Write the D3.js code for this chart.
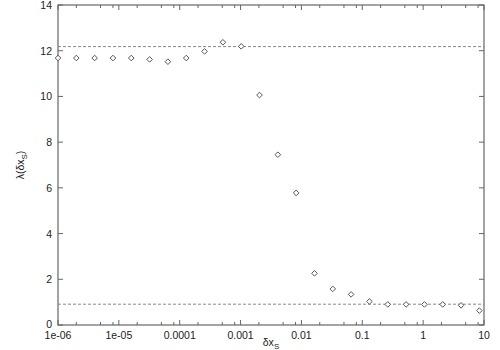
<!DOCTYPE html>
<head>
<meta charset="utf-8">
<script src="https://d3js.org/d3.v7.min.js"></script>
<style>
body { margin: 0; background: white; }
text { font-family: "Liberation Sans", Arial, sans-serif; fill: #222; }
</style>
</head>
<body>
<div id="chart"></div>
<script>
// points: dx doubles from 1e-06
dx = [1e-6, 2e-6, 4e-6, 8e-6, 1.6e-5, 3.2e-5, 6.4e-5, 1.28e-4, 2.56e-4, 5.12e-4,
      1.024e-3, 2.048e-3, 4.096e-3, 8.192e-3, 1.6384e-2, 3.2768e-2, 6.5536e-2,
      0.131072, 0.262144, 0.524288, 1.048576, 2.097152, 4.194304, 8.388608];
lambda = [11.68, 11.68, 11.68, 11.68, 11.68, 11.62, 11.52, 11.68, 11.97, 12.37,
          12.19, 10.06, 7.45, 5.78, 2.26, 1.58, 1.34, 1.03, 0.90, 0.90,
          0.90, 0.90, 0.86, 0.63];
refLines = [12.18, 0.91];
xTicks = [1e-6, 1e-5, 1e-4, 1e-3, 1e-2, 0.1, 1, 10];
xTickLabels = ["1e-06", "1e-05", "0.0001", "0.001", "0.01", "0.1", "1", "10"];
yTicks = [0, 2, 4, 6, 8, 10, 12, 14];
minorMult = [2, 5, 8];

width = 500;
height = 350;
margin = {left: 58, right: 16, top: 5, bottom: 25};

const svg = d3.select("#chart").append("svg")
    .attr("width", width)
    .attr("height", height);

var x = d3.scaleLog()
    .domain([1e-6, 10])
    .range([margin.left, width - margin.right]);

var y = d3.scaleLinear()
    .domain([0, 14])
    .range([height - margin.bottom, margin.top]);

let x0 = x.range()[0], x1 = x.range()[1];
let y0 = y.range()[0], y1 = y.range()[1];
let axcol = "#666";

// minor ticks (top and bottom)
let minors = [];
xTicks.slice(0, -1).forEach(d => minorMult.forEach(m => minors.push(d * m)));

let g = svg.append("g");
g.selectAll(".minb").data(minors).enter().append("line")
    .attr("x1", d => x(d)).attr("x2", d => x(d))
    .attr("y1", y0).attr("y2", y0 - 3)
    .attr("stroke", axcol);
g.selectAll(".mint").data(minors).enter().append("line")
    .attr("x1", d => x(d)).attr("x2", d => x(d))
    .attr("y1", y1).attr("y2", y1 + 3)
    .attr("stroke", axcol);

// major x ticks
g.selectAll(".majb").data(xTicks).enter().append("line")
    .attr("x1", d => x(d)).attr("x2", d => x(d))
    .attr("y1", y0).attr("y2", y0 - 5)
    .attr("stroke", axcol);
g.selectAll(".majt").data(xTicks).enter().append("line")
    .attr("x1", d => x(d)).attr("x2", d => x(d))
    .attr("y1", y1).attr("y2", y1 + 5)
    .attr("stroke", axcol);

// y ticks left and right
g.selectAll(".yl").data(yTicks).enter().append("line")
    .attr("x1", x0).attr("x2", x0 + 5)
    .attr("y1", d => y(d)).attr("y2", d => y(d))
    .attr("stroke", axcol);
g.selectAll(".yr").data(yTicks).enter().append("line")
    .attr("x1", x1).attr("x2", x1 - 5)
    .attr("y1", d => y(d)).attr("y2", d => y(d))
    .attr("stroke", axcol);

// frame
svg.append("rect")
    .attr("x", x0).attr("y", y1)
    .attr("width", x1 - x0).attr("height", y0 - y1)
    .attr("fill", "none").attr("stroke", axcol).attr("stroke-width", 1.2);

// tick labels
svg.selectAll(".xl").data(xTicks).enter().append("text")
    .attr("x", d => x(d)).attr("y", y0 + 14)
    .attr("text-anchor", "middle")
    .attr("font-size", "10.5px")
    .text((d, i) => xTickLabels[i]);

svg.selectAll(".ylab").data(yTicks).enter().append("text")
    .attr("x", x0 - 6).attr("y", d => y(d) + (d == 0 ? 2.5 : 4))
    .attr("text-anchor", "end")
    .attr("font-size", "10.5px")
    .text(d => d);

// reference dashed lines
svg.selectAll(".ref").data(refLines).enter().append("line")
    .attr("x1", x0).attr("x2", x1)
    .attr("y1", d => y(d)).attr("y2", d => y(d))
    .attr("stroke", "#888")
    .attr("stroke-dasharray", "3,2");

// diamonds
svg.selectAll(".pt").data(dx).enter().append("path")
    .attr("d", (d, i) => {
        let cx = x(d), cy = y(lambda[i]), r = 2.8;
        return "M" + cx + "," + (cy - r) + "L" + (cx + r) + "," + cy +
            "L" + cx + "," + (cy + r) + "L" + (cx - r) + "," + cy + "Z";
    })
    .attr("fill", "white")
    .attr("stroke", "#444")
    .attr("stroke-width", 0.9);

// axis titles
let xt = svg.append("text")
    .attr("x", (x0 + x1) / 2).attr("y", y0 + 21)
    .attr("text-anchor", "middle")
    .attr("font-size", "10.5px");
xt.append("tspan").text("δx");
xt.append("tspan").attr("dy", 3).attr("font-size", "8px").text("S");

let yt = svg.append("text")
    .attr("transform", "translate(24," + ((y0 + y1) / 2) + ") rotate(-90)")
    .attr("text-anchor", "middle")
    .attr("font-size", "10.5px");
yt.append("tspan").text("λ(δx");
yt.append("tspan").attr("dy", 3).attr("font-size", "8px").text("S");
yt.append("tspan").attr("dy", -3).text(")");
</script>
</body>
